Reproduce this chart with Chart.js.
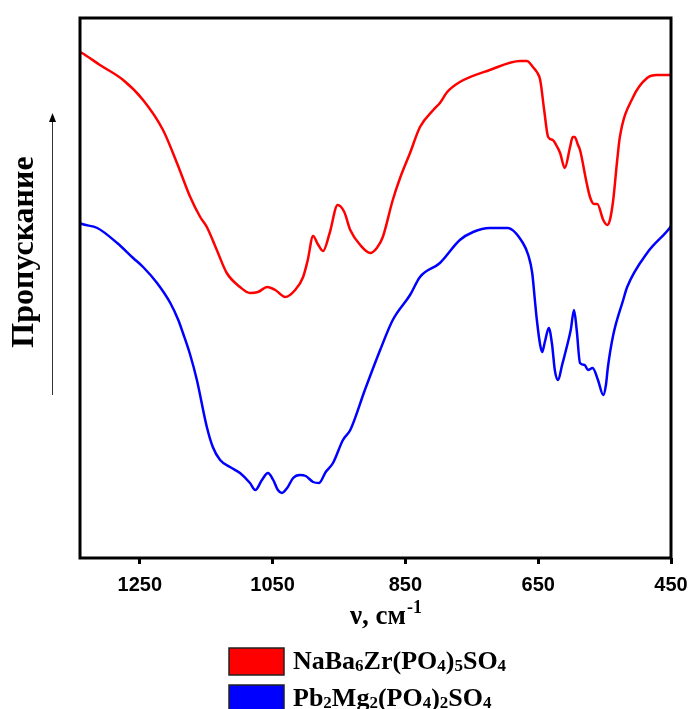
<!DOCTYPE html>
<html lang="ru">
<head>
<meta charset="UTF-8" />
<title>ИК-спектры фосфатосульфатов</title>
<script src="https://cdn.jsdelivr.net/npm/chart.js"></script>
<style>
  body { margin: 0; background: #fff; }
  #wrap { width: 692px; height: 709px; }
</style>
</head>
<body>
<div id="wrap"><canvas id="spectra" width="692" height="709"></canvas></div>
<script>
// wavenumber ticks (cm-1), axis runs high -> low
const xTicks = [1250, 1050, 850, 650, 450];
const xMin = 450, xMax = 1340;

const redLabel = 'NaBa6Zr(PO4)5SO4';
const redWn = [1340, 1337, 1310, 1275, 1245, 1215, 1194, 1174, 1159, 1149, 1134, 1119, 1099, 1084, 1072, 1058, 1046, 1031, 1016, 1004, 997, 989, 982, 974, 964, 952, 942, 933, 918, 903, 893, 884, 869, 858, 843, 828, 808, 798, 787, 768, 723, 677, 667, 658, 652, 647, 641, 635, 628, 623, 617, 610, 602, 598, 595, 590, 587, 577, 572, 566, 561, 552, 546, 542, 537, 531, 527, 507, 486, 471, 452, 450];
const redT  = [506, 505, 493, 478, 458, 428, 395, 361, 341, 331, 308, 285, 271, 265, 266, 271, 268, 261, 268, 281, 298, 322, 314, 307, 325, 353, 346, 328, 313, 305, 310, 321, 358, 380, 405, 431, 448, 455, 466, 476, 488, 497, 497, 491, 486, 478, 448, 421, 418, 413, 405, 390, 411, 421, 421, 413, 408, 375, 361, 354, 354, 338, 333, 338, 358, 398, 421, 461, 480, 483, 483, 483];

const blueLabel = 'Pb2Mg2(PO4)2SO4';
const blueWn = [1340, 1337, 1314, 1284, 1260, 1245, 1224, 1204, 1192, 1185, 1174, 1164, 1149, 1140, 1129, 1114, 1099, 1084, 1076, 1066, 1057, 1049, 1042, 1036, 1028, 1019, 1009, 1000, 989, 980, 970, 959, 944, 933, 911, 888, 869, 843, 828, 798, 768, 748, 723, 696, 673, 665, 659, 655, 652, 647, 644, 640, 634, 629, 625, 620, 614, 607, 601, 596, 592, 587, 580, 575, 568, 560, 552, 548, 545, 537, 522, 516, 486, 452, 450];
const blueT  = [335, 334, 330, 315, 300, 291, 275, 255, 238, 225, 203, 178, 131, 111, 98, 91, 85, 75, 68, 78, 85, 78, 68, 65, 70, 80, 83, 82, 76, 75, 86, 95, 118, 128, 168, 208, 238, 263, 281, 295, 318, 326, 330, 330, 315, 303, 285, 258, 238, 213, 206, 216, 230, 213, 188, 178, 193, 211, 228, 248, 228, 195, 193, 188, 190, 178, 163, 173, 191, 223, 258, 271, 305, 330, 332];

const toPoints = (xs, ys) => xs.map((x, i) => ({ x: x, y: ys[i] }));
const serif = "'Liberation Serif', 'Times New Roman', serif";

// chemical formula: digits go to subscript
function drawFormula(ctx, text, x, y, size) {
  for (const part of text.match(/\d+|\D+/g)) {
    const sub = /\d/.test(part);
    ctx.font = `bold ${sub ? Math.round(size * 0.64) : size}px ${serif}`;
    ctx.fillText(part, x, y + (sub ? 2 : 0));
    x += ctx.measureText(part).width;
  }
}

const decor = {
  id: 'decor',
  afterDraw(chart) {
    const { ctx, chartArea: a } = chart;
    ctx.save();
    // frame
    ctx.strokeStyle = '#000';
    ctx.lineWidth = 3;
    ctx.strokeRect(a.left, a.top, a.right - a.left, a.bottom - a.top);

    // y title
    ctx.fillStyle = '#000';
    ctx.save();
    ctx.translate(33, 252);
    ctx.rotate(-Math.PI / 2);
    ctx.font = `bold 32px ${serif}`;
    ctx.textAlign = 'center';
    ctx.textBaseline = 'alphabetic';
    ctx.fillText('Пропускание', 0, 0);
    ctx.restore();

    // arrow up
    ctx.strokeStyle = '#333';
    ctx.lineWidth = 1;
    ctx.beginPath();
    ctx.moveTo(52.5, 395);
    ctx.lineTo(52.5, 120);
    ctx.stroke();
    ctx.fillStyle = '#000';
    ctx.beginPath();
    ctx.moveTo(52.5, 113);
    ctx.lineTo(49, 122);
    ctx.lineTo(56, 122);
    ctx.closePath();
    ctx.fill();

    // x title
    ctx.textAlign = 'left';
    ctx.textBaseline = 'alphabetic';
    ctx.font = `bold 27px ${serif}`;
    const t = 'ν, см';
    ctx.fillText(t, 350, 624);
    const w = ctx.measureText(t).width;
    ctx.font = `bold 18px ${serif}`;
    ctx.fillText('-1', 350 + w + 1, 613);

    // legend
    const rows = [648, 685];
    chart.data.datasets.forEach((ds, i) => {
      const top = rows[i];
      ctx.fillStyle = ds.borderColor;
      ctx.fillRect(229, top, 55, 27);
      ctx.strokeStyle = '#222';
      ctx.lineWidth = 1.5;
      ctx.strokeRect(229, top, 55, 27);
      ctx.fillStyle = '#000';
      drawFormula(ctx, ds.label, 293, top + 21, 26);
    });
    ctx.restore();
  }
};

new Chart(document.getElementById('spectra'), {
  type: 'line',
  data: {
    datasets: [
      { label: redLabel, data: toPoints(redWn, redT), borderColor: '#ff0000', borderWidth: 2.5 },
      { label: blueLabel, data: toPoints(blueWn, blueT), borderColor: '#0000ff', borderWidth: 2.5 }
    ]
  },
  options: {
    responsive: false,
    animation: false,
    devicePixelRatio: 1,
    layout: { padding: { left: 80, right: 21, top: 18, bottom: 0 } },
    elements: {
      point: { radius: 0 },
      line: { cubicInterpolationMode: 'monotone' }
    },
    plugins: { legend: { display: false }, tooltip: { enabled: false } },
    scales: {
      x: {
        type: 'linear',
        reverse: true,
        min: xMin,
        max: xMax,
        afterBuildTicks: s => { s.ticks = xTicks.map(v => ({ value: v })); },
        afterFit: s => { s.height = 151; s.paddingLeft = 0; s.paddingRight = 0; },
        border: { display: false },
        grid: { drawOnChartArea: false, drawTicks: true, tickLength: 6, lineWidth: 3, color: '#000' },
        ticks: {
          color: '#000',
          padding: 9,
          maxRotation: 0,
          callback: v => String(v),
          font: { family: "'Liberation Sans', Arial, sans-serif", size: 20, weight: 'bold' }
        }
      },
      y: { display: false, min: 0, max: 540 }
    }
  },
  plugins: [decor]
});
</script>
</body>
</html>
